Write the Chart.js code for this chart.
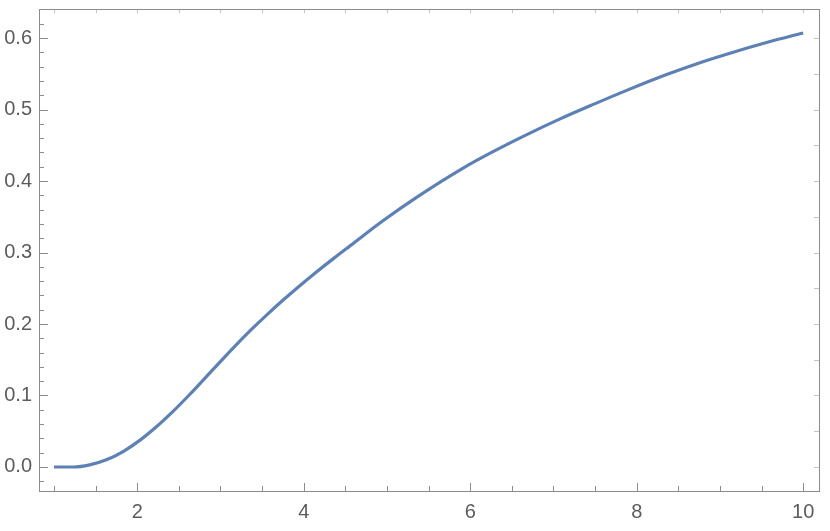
<!DOCTYPE html>
<html>
<head>
<meta charset="utf-8">
<script src="https://cdn.jsdelivr.net/npm/chart.js@4/dist/chart.umd.min.js"></script>
<style>
  html, body { margin: 0; padding: 0; background: #fff; }
  #wrap { width: 830px; height: 531px; }
</style>
</head>
<body>
<div id="wrap"><canvas id="plot"></canvas></div>
<script>
// values
const xs = [1, 1.23, 1.43, 1.63, 1.83, 2.03, 2.23, 2.43, 2.63, 2.92, 3.16, 3.36, 3.56, 3.76, 3.96,
  4.16, 4.36, 4.56, 4.96, 5.36, 5.92, 6.28, 6.68, 7.08, 7.48, 7.88, 8.36, 8.76, 9.17, 9.57, 10];
const ys = [0, 0, 0.003, 0.01, 0.0216, 0.0372, 0.0562, 0.0778, 0.1014, 0.1376, 0.1674, 0.191, 0.2132, 0.2342, 0.2542,
  0.2734, 0.2918, 0.3096, 0.345, 0.3775, 0.4185, 0.4414, 0.4649, 0.4869, 0.5072, 0.5268, 0.5489, 0.5655, 0.5805, 0.5941, 0.607];

// tick values
const xLabels = [2, 4, 6, 8, 10];
const xMinor = [1, 1.5, 2.5, 3, 3.5, 4.5, 5, 5.5, 6.5, 7, 7.5, 8.5, 9, 9.5];
const xTop = [1, 1.5, 2, 2.5, 3, 3.5, 4, 4.5, 5, 5.5, 6, 6.5, 7, 7.5, 8, 8.5, 9, 9.5, 10];
const yLabels = [0, 0.1, 0.2, 0.3, 0.4, 0.5, 0.6];
const yMinor = [-0.02, 0.02, 0.04, 0.06, 0.08, 0.12, 0.14, 0.16, 0.18, 0.22, 0.24, 0.26, 0.28,
  0.32, 0.34, 0.36, 0.38, 0.42, 0.44, 0.46, 0.48, 0.52, 0.54, 0.56, 0.58, 0.62];
const yRight = [0, 0.05, 0.1, 0.15, 0.2, 0.25, 0.3, 0.35, 0.4, 0.45, 0.5, 0.55, 0.6];

const frameColor = "#8c8c8c";
const textColor = "#5c5c5c";

// frame with inward ticks, Mathematica style
const framePlugin = {
  id: "frame",
  afterDraw(chart) {
    const { ctx, chartArea: a, scales } = chart;
    const x = scales.x, y = scales.y;
    ctx.save();
    ctx.lineWidth = 1;

    const tick = (x1, y1, x2, y2, color) => {
      ctx.strokeStyle = color;
      ctx.beginPath();
      ctx.moveTo(x1, y1);
      ctx.lineTo(x2, y2);
      ctx.stroke();
    };

    for (const v of xLabels) {
      const p = Math.round(x.getPixelForValue(v)) + 0.5;
      tick(p, a.bottom, p, a.bottom - 8, frameColor);
    }
    for (const v of xMinor) {
      const p = Math.round(x.getPixelForValue(v)) + 0.5;
      tick(p, a.bottom, p, a.bottom - 5, frameColor);
    }
    for (const v of xTop) {
      const p = Math.round(x.getPixelForValue(v)) + 0.5;
      tick(p, a.top, p, a.top + 4, "#c4c4c4");
    }
    for (const v of yLabels) {
      const p = Math.round(y.getPixelForValue(v)) + 0.5;
      tick(a.left, p, a.left + 9, p, frameColor);
    }
    for (const v of yMinor) {
      const p = Math.round(y.getPixelForValue(v)) + 0.5;
      tick(a.left, p, a.left + 5, p, frameColor);
    }
    for (const v of yRight) {
      const p = Math.round(y.getPixelForValue(v)) + 0.5;
      tick(a.right, p, a.right - 5, p, "#c4c4c4");
    }

    ctx.strokeStyle = frameColor;
    ctx.strokeRect(Math.round(a.left) + 0.5, Math.round(a.top) + 0.5,
      Math.round(a.right - a.left), Math.round(a.bottom - a.top));
    ctx.restore();
  },
};

const points = xs.map((v, i) => ({ x: v, y: ys[i] }));

new Chart(document.getElementById("plot"), {
  type: "line",
  data: {
    datasets: [{
      data: points,
      borderColor: "#5e81b5",
      borderWidth: 3.2,
      pointRadius: 0,
      fill: false,
      cubicInterpolationMode: "monotone",
    }],
  },
  options: {
    responsive: true,
    maintainAspectRatio: false,
    animation: false,
    events: [],
    layout: { padding: { top: 9, right: 11, left: 0, bottom: 0 } },
    plugins: { legend: { display: false }, tooltip: { enabled: false } },
    scales: {
      x: {
        type: "linear",
        min: 0.82,
        max: 10.19,
        grid: { display: false, drawTicks: false },
        border: { display: false },
        afterBuildTicks: (s) => { s.ticks = xLabels.map((v) => ({ value: v })); },
        afterFit: (s) => { s.height = 40; s.paddingLeft = 0; s.paddingRight = 0; },
        ticks: {
          padding: 9,
          maxRotation: 0,
          color: textColor,
          font: { family: "Liberation Sans, Arial, sans-serif", size: 20 },
          callback: (v) => String(v),
        },
      },
      y: {
        type: "linear",
        min: -0.0336,
        max: 0.6406,
        grid: { display: false, drawTicks: false },
        border: { display: false },
        afterBuildTicks: (s) => { s.ticks = yLabels.map((v) => ({ value: v })); },
        afterFit: (s) => { s.width = 39; s.paddingTop = 0; s.paddingBottom = 0; },
        ticks: {
          padding: 7,
          color: textColor,
          font: { family: "Liberation Sans, Arial, sans-serif", size: 20 },
          callback: (v) => Number(v).toFixed(1),
        },
      },
    },
  },
  plugins: [framePlugin],
});
</script>
</body>
</html>
